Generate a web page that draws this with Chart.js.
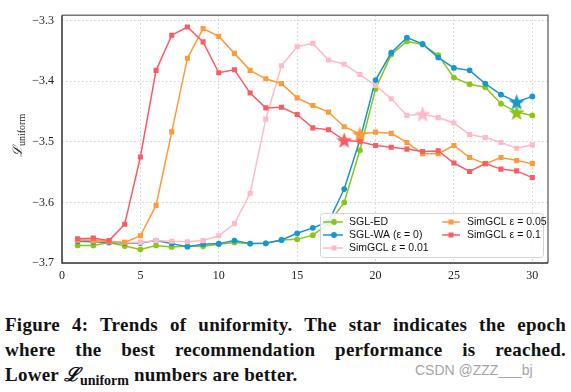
<!DOCTYPE html>
<html>
<head>
<meta charset="utf-8">
<script src="https://cdn.jsdelivr.net/npm/chart.js@4.4.0/dist/chart.umd.min.js"></script>
<style>
  body { margin: 0; background: #fff; width: 571px; height: 392px; overflow: hidden; position: relative; }
  #wrap { position: absolute; left: 0; top: 0; width: 571px; height: 285px; }
  #caption { position: absolute; left: 5px; top: 312px; width: 561px; font-family: "Liberation Serif", serif; font-weight: bold; font-size: 19px; letter-spacing: 0.25px; line-height: 25px; color: #111; }
  #caption div { text-align: justify; text-align-last: justify; white-space: nowrap; }
  #caption div.last { text-align-last: left; }
  #caption sub { font-size: 14px; vertical-align: -4px; letter-spacing: 0; }
  #mark { position: absolute; left: 415px; top: 362px; font-family: "Liberation Sans", sans-serif; font-size: 14px; color: #a5a5a5; }
</style>
</head>
<body>
<div id="wrap"><canvas id="chart" width="571" height="285"></canvas></div>
<div id="caption">
  <div>Figure 4: Trends of uniformity. The star indicates the epoch</div>
  <div style="white-space: normal">where the best recommendation performance is reached.</div>
  <div class="last">Lower <i>ℒ</i><sub>uniform</sub> numbers are better.</div>
</div>
<div id="mark">CSDN @ZZZ___bj</div>
<script>
var epochs = [1,2,3,4,5,6,7,8,9,10,11,12,13,14,15,16,17,18,19,20,21,22,23,24,25,26,27,28,29,30];
var sglED = [-3.671,-3.671,-3.666,-3.672,-3.6775,-3.671,-3.6735,-3.672,-3.6725,-3.669,-3.666,-3.668,-3.6675,-3.662,-3.661,-3.654,-3.635,-3.600,-3.514,-3.413,-3.356,-3.334,-3.3395,-3.357,-3.394,-3.405,-3.410,-3.437,-3.451,-3.4565];
var sglWA = [-3.664,-3.665,-3.666,-3.667,-3.667,-3.663,-3.668,-3.673,-3.669,-3.668,-3.663,-3.668,-3.6675,-3.662,-3.651,-3.642,-3.632,-3.578,-3.497,-3.398,-3.353,-3.328,-3.3385,-3.361,-3.378,-3.382,-3.404,-3.422,-3.434,-3.425];
var simgcl001 = [-3.662,-3.663,-3.664,-3.666,-3.666,-3.663,-3.664,-3.665,-3.663,-3.655,-3.635,-3.585,-3.4625,-3.3745,-3.343,-3.3375,-3.365,-3.372,-3.389,-3.407,-3.429,-3.4565,-3.454,-3.460,-3.469,-3.488,-3.493,-3.501,-3.5105,-3.505];
var simgcl005 = [-3.662,-3.663,-3.665,-3.666,-3.655,-3.605,-3.4835,-3.362,-3.313,-3.326,-3.354,-3.382,-3.396,-3.404,-3.4275,-3.440,-3.451,-3.475,-3.487,-3.484,-3.486,-3.501,-3.5195,-3.5195,-3.506,-3.526,-3.536,-3.526,-3.531,-3.536];
var simgcl01 = [-3.660,-3.659,-3.663,-3.636,-3.525,-3.382,-3.324,-3.3105,-3.335,-3.386,-3.381,-3.4195,-3.444,-3.443,-3.455,-3.477,-3.480,-3.497,-3.500,-3.506,-3.509,-3.512,-3.516,-3.515,-3.535,-3.549,-3.536,-3.545,-3.548,-3.559];

var seriesNames = ['SGL-ED', 'SGL-WA (ε = 0)', 'SimGCL ε = 0.01', 'SimGCL ε = 0.05', 'SimGCL ε = 0.1'];
var seriesData = [sglED, sglWA, simgcl001, simgcl005, simgcl01];
var seriesColors = ['#8cc514', '#1597cf', '#ffbac8', '#ff9a3a', '#fb5c63'];
var seriesMarkers = ['circle', 'circle', 'rect', 'rect', 'rect'];
var bestEpochs = [29, 29, 23, 19, 18];
var xTicks = [0, 5, 10, 15, 20, 25, 30];
var yTicks = [-3.7, -3.6, -3.5, -3.4, -3.3];

Chart.defaults.font.family = "'Liberation Serif', serif";
Chart.defaults.font.size = 12;
Chart.defaults.color = '#222';

// filled 5-point star used as the marker for the best epoch
function starImage(color, r) {
    var c = document.createElement('canvas');
    var s = Math.ceil(r * 2 + 2);
    c.width = s; c.height = s;
    var g = c.getContext('2d');
    g.beginPath();
    for (var i = 0; i < 10; i++) {
        var rad = i % 2 ? r * 0.42 : r;
        var a = -Math.PI / 2 + i * Math.PI / 5;
        g.lineTo(s / 2 + rad * Math.cos(a), s / 2 + rad * Math.sin(a) + r * 0.1);
    }
    g.closePath();
    g.fillStyle = color;
    g.fill();
    return c;
}

var datasets = seriesNames.map(function(name, i){
    var star = starImage(seriesColors[i], 8.5);
    return {
        label: name,
        data: epochs.map(function(e, j){ return {x: e, y: seriesData[i][j]}; }),
        borderColor: seriesColors[i],
        backgroundColor: seriesColors[i],
        borderWidth: 1.5,
        pointBackgroundColor: seriesColors[i],
        pointBorderWidth: 0,
        pointRadius: seriesMarkers[i] == 'rect' ? 3.6 : 2.9,
        pointStyle: function(ctx){
            return epochs[ctx.dataIndex] == bestEpochs[i] ? star : seriesMarkers[i];
        },
        order: 5 - i,
        tension: 0
    };
});

var yTitle = {
    id: 'yTitle',
    afterDraw: function(chart){
        var ctx = chart.ctx;
        ctx.save();
        ctx.translate(22, 134);
        ctx.rotate(-Math.PI / 2);
        ctx.fillStyle = '#222';
        ctx.textBaseline = 'alphabetic';
        ctx.font = 'italic 13px "DejaVu Serif", serif';
        ctx.fillText('ℒ', -23, 0);
        ctx.font = '10px "Liberation Serif", serif';
        ctx.fillText('uniform', -12, 3);
        ctx.restore();
    }
};

// two column legend box in the lower right, like the original
var boxLegend = {
    id: 'boxLegend',
    afterDatasetsDraw: function(chart){
        var ctx = chart.ctx;
        var cols = [[323, 343, 334, 349], [442, 460, 451, 467]];
        var rows = [222, 235, 248];
        ctx.save();
        ctx.beginPath();
        ctx.roundRect(320.5, 213.5, 223, 44, 3);
        ctx.fillStyle = 'rgba(255,255,255,0.85)';
        ctx.fill();
        ctx.strokeStyle = '#d4d4d4';
        ctx.lineWidth = 1;
        ctx.stroke();
        seriesNames.forEach(function(name, i){
            var col = cols[i < 3 ? 0 : 1];
            var y = rows[i < 3 ? i : i - 3];
            ctx.strokeStyle = seriesColors[i];
            ctx.fillStyle = seriesColors[i];
            ctx.lineWidth = 1.5;
            ctx.beginPath();
            ctx.moveTo(col[0], y);
            ctx.lineTo(col[1], y);
            ctx.stroke();
            if (seriesMarkers[i] == 'rect') {
                ctx.fillRect(col[2] - 2.5, y - 2.5, 5, 5);
            } else {
                ctx.beginPath();
                ctx.arc(col[2], y, 2.9, 0, Math.PI * 2);
                ctx.fill();
            }
            ctx.fillStyle = '#111';
            ctx.font = '10.5px "Liberation Sans", sans-serif';
            ctx.textBaseline = 'middle';
            ctx.fillText(name, col[3], y + 0.5);
        });
        ctx.restore();
    }
};

var frame = {
    id: 'frame',
    afterDraw: function(chart){
        var a = chart.chartArea;
        var ctx = chart.ctx;
        ctx.save();
        ctx.lineWidth = 1.5;
        ctx.strokeStyle = '#777';
        ctx.beginPath();
        ctx.moveTo(a.left, a.top);
        ctx.lineTo(a.right, a.top);
        ctx.lineTo(a.right, a.bottom);
        ctx.stroke();
        ctx.strokeStyle = '#333';
        ctx.beginPath();
        ctx.moveTo(a.left, a.top);
        ctx.lineTo(a.left, a.bottom);
        ctx.lineTo(a.right, a.bottom);
        ctx.stroke();
        ctx.restore();
    }
};

new Chart(document.getElementById('chart'), {
    type: 'line',
    data: {datasets: datasets},
    plugins: [yTitle, boxLegend, frame],
    options: {
        responsive: false,
        animation: false,
        layout: {padding: {left: 0, top: 5, right: 23, bottom: 0}},
        plugins: {legend: {display: false}, tooltip: {enabled: false}},
        scales: {
            x: {
                type: 'linear',
                min: 0,
                max: 31,
                afterBuildTicks: function(scale){ scale.ticks = xTicks.map(function(v){ return {value: v}; }); },
                afterFit: function(scale){ scale.height = 22; },
                ticks: {padding: 6},
                grid: {color: '#cfcfcf', lineWidth: 1, drawTicks: false},
                border: {display: false, dash: [1.5, 2.5]}
            },
            y: {
                min: -3.7,
                max: -3.291,
                afterBuildTicks: function(scale){ scale.ticks = yTicks.map(function(v){ return {value: v}; }); },
                afterFit: function(scale){ scale.width = 62; },
                ticks: {
                    padding: 8,
                    callback: function(v){ return '−' + Math.abs(v).toFixed(1); }
                },
                grid: {color: '#cfcfcf', lineWidth: 1, drawTicks: false},
                border: {display: false, dash: [1.5, 2.5]}
            }
        }
    }
});
</script>
</body>
</html>
